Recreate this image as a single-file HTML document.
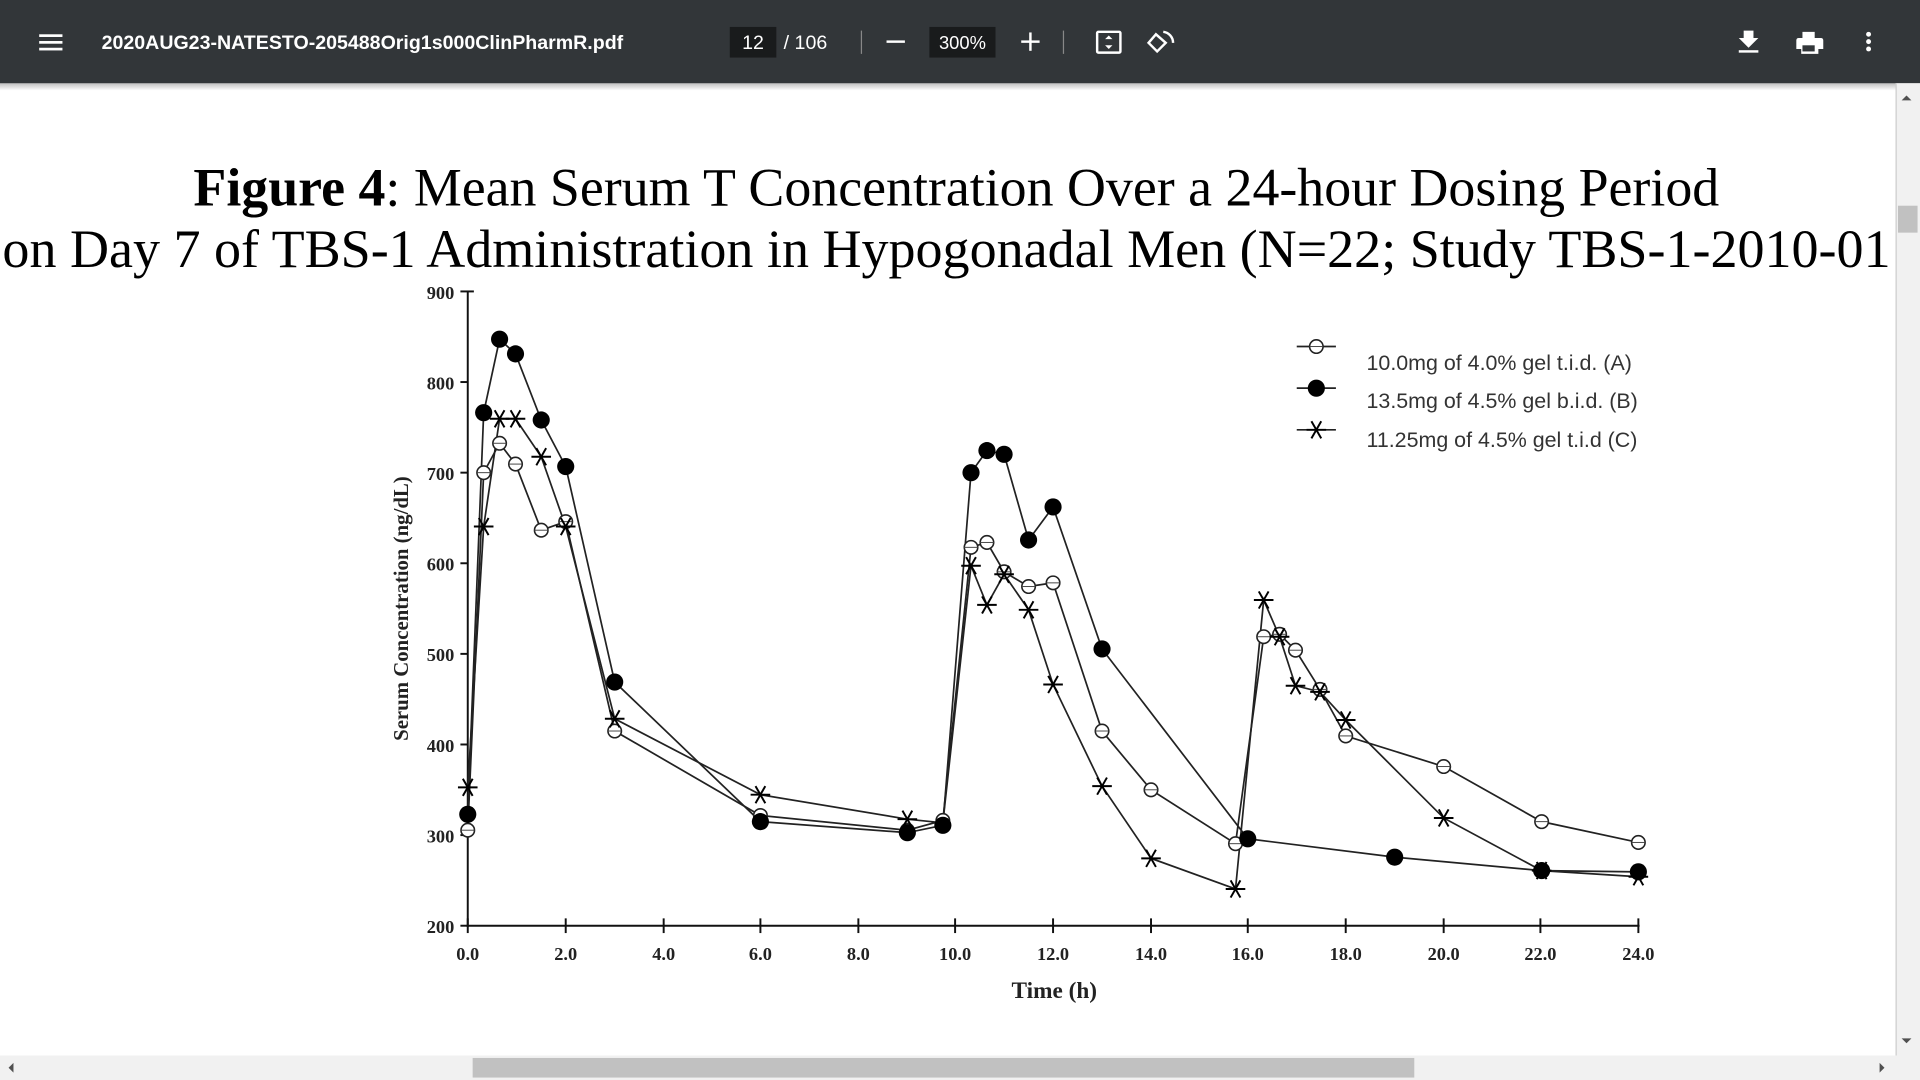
<!DOCTYPE html>
<html><head><meta charset="utf-8"><style>
html,body{margin:0;padding:0;width:1920px;height:1080px;overflow:hidden;background:#fff}
svg{display:block}
</style></head><body>
<svg width="1920" height="1080" viewBox="0 0 1568 882" xmlns="http://www.w3.org/2000/svg">
<defs>
<linearGradient id="sh" x1="0" y1="0" x2="0" y2="1"><stop offset="0" stop-color="#000" stop-opacity="0.25"/><stop offset="1" stop-color="#000" stop-opacity="0"/></linearGradient>
<g id="oc"><circle r="5.5" fill="#fff" stroke="#222" stroke-width="1.3"/><line x1="-5.5" y1="0" x2="5.5" y2="0" stroke="#444" stroke-width="0.8"/></g>
<g id="fc"><circle r="7" fill="#000"/></g>
<g id="st" stroke="#000" stroke-width="1.6"><line x1="-8" y1="0" x2="8" y2="0"/><line x1="-4" y1="-7" x2="4" y2="7"/><line x1="4" y1="-7" x2="-4" y2="7"/></g>
</defs>
<rect width="1568" height="882" fill="#fff"/>
<!-- toolbar -->
<rect x="0" y="0" width="1568" height="68" fill="#323639"/>
<rect x="0" y="68" width="1548" height="6" fill="url(#sh)"/>
<g fill="#fff"><rect x="32" y="28" width="19" height="2.2"/><rect x="32" y="33.5" width="19" height="2.2"/><rect x="32" y="39" width="19" height="2.2"/></g>
<text x="83" y="40" font-family="Liberation Sans, sans-serif" font-size="16" font-weight="bold" fill="#fff">2020AUG23-NATESTO-205488Orig1s000ClinPharmR.pdf</text>
<rect x="596" y="22" width="38" height="25" fill="#191b1c"/>
<text x="615" y="40" text-anchor="middle" font-family="Liberation Sans, sans-serif" font-size="16" fill="#fff">12</text>
<text x="640" y="40" font-family="Liberation Sans, sans-serif" font-size="16" fill="#fff">/ 106</text>
<rect x="703" y="25" width="1" height="19" fill="#888"/>
<rect x="724" y="33" width="15" height="2" fill="#fff"/>
<rect x="759" y="22" width="54" height="25" fill="#191b1c"/>
<text x="786" y="40" text-anchor="middle" font-family="Liberation Sans, sans-serif" font-size="15" fill="#fff">300%</text>
<rect x="834" y="33" width="15" height="2" fill="#fff"/><rect x="840.5" y="26.5" width="2" height="15" fill="#fff"/>
<rect x="868" y="25" width="1" height="19" fill="#888"/>
<rect x="896" y="26" width="19" height="17" fill="none" stroke="#fff" stroke-width="2" rx="1"/>
<path d="M905.5 29 l-3 3 h6 z M905.5 40 l-3 -3 h6 z" fill="#fff"/>
<path d="M944 28 l-6 7 l7 7 l7 -7 z" fill="none" stroke="#fff" stroke-width="2"/>
<path d="M950 26 a9 9 0 0 1 8 9" fill="none" stroke="#fff" stroke-width="2"/>
<path d="M1422 26 h12 v0 M1428 25 v12" stroke="none"/>
<path d="M1424 25 h8 v6 h4 l-8 8 l-8 -8 h4 z" fill="#fff"/><rect x="1420" y="41" width="16" height="2" fill="#fff"/>
<path d="M1472 26 h10 v5 h-10 z M1467 31 h20 q2 0 2 2 v7 h-4 v4 h-14 v-4 h-4 v-7 q0 -2 2 -2 z" fill="#fff"/><rect x="1472" y="37" width="10" height="5" fill="#323639"/>
<circle cx="1526" cy="28" r="2" fill="#fff"/><circle cx="1526" cy="34" r="2" fill="#fff"/><circle cx="1526" cy="40" r="2" fill="#fff"/>
<!-- scrollbars -->
<rect x="1548" y="68" width="20" height="794" fill="#f1f1f1"/>
<line x1="1548.5" y1="68" x2="1548.5" y2="862" stroke="#ccc"/>
<path d="M1553 82 l4 -4 l4 4 z" fill="#505050"/><path d="M1553 848 l4 4 l4 -4 z" fill="#505050"/>
<rect x="1550" y="168" width="16" height="22" fill="#c1c1c1"/>
<rect x="0" y="862" width="1568" height="20" fill="#f1f1f1"/>
<rect x="386" y="864" width="769" height="16" fill="#c1c1c1"/>
<path d="M11 868 l-4 4 l4 4 z" fill="#505050"/><path d="M1535 868 l4 4 l-4 4 z" fill="#505050"/>
<!-- title -->
<text x="781" y="168" text-anchor="middle" font-family="Liberation Serif, serif" font-size="44" fill="#000"><tspan font-weight="bold">Figure 4</tspan>: Mean Serum T Concentration Over a 24-hour Dosing Period</text>
<text x="2" y="218" font-family="Liberation Serif, serif" font-size="44" fill="#000" textLength="1542" lengthAdjust="spacingAndGlyphs">on Day 7 of TBS-1 Administration in Hypogonadal Men (N=22; Study TBS-1-2010-01</text>
<!-- axes -->
<g stroke="#111" stroke-width="1.6" fill="none">
<line x1="382" y1="238" x2="382" y2="757"/>
<line x1="381" y1="756" x2="1339" y2="756"/>
<line x1="376" y1="238" x2="387" y2="238"/>
<line x1="376" y1="312" x2="382" y2="312"/>
<line x1="376" y1="386" x2="382" y2="386"/>
<line x1="376" y1="460" x2="382" y2="460"/>
<line x1="376" y1="534" x2="382" y2="534"/>
<line x1="376" y1="608" x2="382" y2="608"/>
<line x1="376" y1="682" x2="382" y2="682"/>
<line x1="376" y1="756" x2="382" y2="756"/>
<line x1="462" y1="750" x2="462" y2="762"/><line x1="542" y1="750" x2="542" y2="762"/><line x1="621" y1="750" x2="621" y2="762"/><line x1="701" y1="750" x2="701" y2="762"/><line x1="780" y1="750" x2="780" y2="762"/><line x1="860" y1="750" x2="860" y2="762"/><line x1="940" y1="750" x2="940" y2="762"/><line x1="1019" y1="750" x2="1019" y2="762"/><line x1="1099" y1="750" x2="1099" y2="762"/><line x1="1179" y1="750" x2="1179" y2="762"/><line x1="1258" y1="750" x2="1258" y2="762"/><line x1="1338" y1="750" x2="1338" y2="762"/>
<line x1="382" y1="750" x2="382" y2="762"/>
</g>
<g font-family="Liberation Serif, serif" font-size="15" font-weight="bold" fill="#222" text-anchor="end">
<text x="371" y="244">900</text><text x="371" y="318">800</text><text x="371" y="392">700</text><text x="371" y="466">600</text><text x="371" y="540">500</text><text x="371" y="614">400</text><text x="371" y="688">300</text><text x="371" y="762">200</text>
</g>
<g font-family="Liberation Serif, serif" font-size="15" font-weight="bold" fill="#222" text-anchor="middle">
<text x="382" y="784">0.0</text><text x="462" y="784">2.0</text><text x="542" y="784">4.0</text><text x="621" y="784">6.0</text><text x="701" y="784">8.0</text><text x="780" y="784">10.0</text><text x="860" y="784">12.0</text><text x="940" y="784">14.0</text><text x="1019" y="784">16.0</text><text x="1099" y="784">18.0</text><text x="1179" y="784">20.0</text><text x="1258" y="784">22.0</text><text x="1338" y="784">24.0</text>
</g>
<text x="861" y="815" text-anchor="middle" font-family="Liberation Serif, serif" font-size="19" font-weight="bold" fill="#222">Time (h)</text>
<text transform="translate(333,497) rotate(-90)" text-anchor="middle" font-family="Liberation Serif, serif" font-size="17" font-weight="bold" fill="#222">Serum Concentration (ng/dL)</text>
<!-- series lines -->
<g fill="none" stroke="#222" stroke-width="1.4">
<polyline points="382,678 395,386 408,362 421,379 442,433 462,426 502,597 621,666 741,678 770,670 793,447 806,443 820,467 840,479 860,476 900,597 940,645 1009,689 1032,520 1045,518 1058,531 1078,563 1099,601 1179,626 1259,671 1338,688"/>
<polyline points="382,665 395,337 408,277 421,289 442,343 462,381 502,557 621,671 741,680 770,674 793,386 806,368 820,371 840,441 860,414 900,530 1019,685 1139,700 1259,711 1338,712"/>
<polyline points="382,643 395,430 408,342 421,342 442,373 462,430 502,587 621,649 741,669 770,672 793,462 806,494 820,469 840,498 860,559 900,642 940,701 1009,726 1032,490 1045,520 1058,560 1078,565 1099,588 1179,668 1259,711 1338,716"/>
</g>
<!-- markers A -->
<g>
<use href="#oc" x="382" y="678"/><use href="#oc" x="395" y="386"/><use href="#oc" x="408" y="362"/><use href="#oc" x="421" y="379"/><use href="#oc" x="442" y="433"/><use href="#oc" x="462" y="426"/><use href="#oc" x="502" y="597"/><use href="#oc" x="621" y="666"/><use href="#oc" x="741" y="678"/><use href="#oc" x="770" y="670"/><use href="#oc" x="793" y="447"/><use href="#oc" x="806" y="443"/><use href="#oc" x="820" y="467"/><use href="#oc" x="840" y="479"/><use href="#oc" x="860" y="476"/><use href="#oc" x="900" y="597"/><use href="#oc" x="940" y="645"/><use href="#oc" x="1009" y="689"/><use href="#oc" x="1032" y="520"/><use href="#oc" x="1045" y="518"/><use href="#oc" x="1058" y="531"/><use href="#oc" x="1078" y="563"/><use href="#oc" x="1099" y="601"/><use href="#oc" x="1179" y="626"/><use href="#oc" x="1259" y="671"/><use href="#oc" x="1338" y="688"/>
</g>
<g>
<use href="#fc" x="382" y="665"/><use href="#fc" x="395" y="337"/><use href="#fc" x="408" y="277"/><use href="#fc" x="421" y="289"/><use href="#fc" x="442" y="343"/><use href="#fc" x="462" y="381"/><use href="#fc" x="502" y="557"/><use href="#fc" x="621" y="671"/><use href="#fc" x="741" y="680"/><use href="#fc" x="770" y="674"/><use href="#fc" x="793" y="386"/><use href="#fc" x="806" y="368"/><use href="#fc" x="820" y="371"/><use href="#fc" x="840" y="441"/><use href="#fc" x="860" y="414"/><use href="#fc" x="900" y="530"/><use href="#fc" x="1019" y="685"/><use href="#fc" x="1139" y="700"/><use href="#fc" x="1259" y="711"/><use href="#fc" x="1338" y="712"/>
</g>
<g>
<use href="#st" x="382" y="643"/><use href="#st" x="395" y="430"/><use href="#st" x="408" y="342"/><use href="#st" x="421" y="342"/><use href="#st" x="442" y="373"/><use href="#st" x="462" y="430"/><use href="#st" x="502" y="587"/><use href="#st" x="621" y="649"/><use href="#st" x="741" y="669"/><use href="#st" x="793" y="462"/><use href="#st" x="806" y="494"/><use href="#st" x="820" y="469"/><use href="#st" x="840" y="498"/><use href="#st" x="860" y="559"/><use href="#st" x="900" y="642"/><use href="#st" x="940" y="701"/><use href="#st" x="1009" y="726"/><use href="#st" x="1032" y="490"/><use href="#st" x="1045" y="520"/><use href="#st" x="1058" y="560"/><use href="#st" x="1078" y="565"/><use href="#st" x="1099" y="588"/><use href="#st" x="1179" y="668"/><use href="#st" x="1259" y="711"/><use href="#st" x="1338" y="716"/>
</g>
<!-- legend -->
<g stroke="#222" stroke-width="1.4"><line x1="1059" y1="283" x2="1091" y2="283"/><line x1="1059" y1="317" x2="1091" y2="317"/><line x1="1059" y1="351" x2="1091" y2="351"/></g>
<use href="#oc" x="1075" y="283"/><use href="#fc" x="1075" y="317"/><use href="#st" x="1075" y="351"/>
<g font-family="Liberation Sans, sans-serif" font-size="17.5" fill="#333">
<text x="1116" y="302">10.0mg of 4.0% gel t.i.d. (A)</text>
<text x="1116" y="333">13.5mg of 4.5% gel b.i.d. (B)</text>
<text x="1116" y="365">11.25mg of 4.5% gel t.i.d (C)</text>
</g>
</svg>
</body></html>
